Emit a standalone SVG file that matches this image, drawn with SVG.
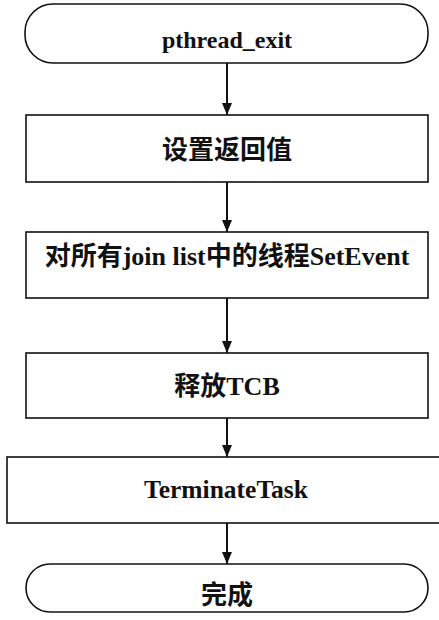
<svg xmlns="http://www.w3.org/2000/svg" width="439" height="620" viewBox="0 0 439 620">
<defs>
<style>
.box{fill:#fff;stroke:#111;stroke-width:1.6}
.lbl{font-family:"Liberation Serif","Noto Sans CJK SC",serif;font-weight:bold;font-size:24px;fill:#111;text-anchor:middle}
.cjk{font-size:26px}
.conn{stroke:#111;stroke-width:2;fill:none;marker-end:url(#ah)}
</style>
<marker id="ah" viewBox="0 0 12 10" refX="12" refY="5" markerWidth="12" markerHeight="10" markerUnits="userSpaceOnUse" orient="auto">
<path d="M0,0 L12,5 L0,10 Z" fill="#111"/>
</marker>
</defs>
<rect width="439" height="620" fill="#fff"/>
<g id="connectors">
<line class="conn" x1="227" y1="63" x2="227" y2="115"/>
<line class="conn" x1="227" y1="182" x2="227" y2="232"/>
<line class="conn" x1="227" y1="298" x2="227" y2="353"/>
<line class="conn" x1="227" y1="418" x2="227" y2="457"/>
<line class="conn" x1="227" y1="523" x2="227" y2="564"/>
</g>
<g id="start">
<rect class="box" x="25" y="4" width="403" height="59" rx="28" ry="28"/>
<text class="lbl" x="227" y="48">pthread_exit</text>
</g>
<g id="set-return">
<rect class="box" x="26" y="115" width="402" height="67"/>
<text class="lbl cjk" x="227" y="159">设置返回值</text>
</g>
<g id="set-event">
<rect class="box" x="26" y="232" width="402" height="66"/>
<text class="lbl cjk" x="227" y="265">对所有join list中的线程SetEvent</text>
</g>
<g id="free-tcb">
<rect class="box" x="26" y="353" width="402" height="65"/>
<text class="lbl cjk" x="227" y="395">释放TCB</text>
</g>
<g id="terminate">
<rect class="box" x="7" y="457" width="440" height="66"/>
<text class="lbl" x="226" y="498" style="font-size:25.5px">TerminateTask</text>
</g>
<g id="end">
<rect class="box" x="26" y="564" width="402" height="48" rx="24" ry="24"/>
<text class="lbl cjk" x="227" y="604">完成</text>
</g>
</svg>
